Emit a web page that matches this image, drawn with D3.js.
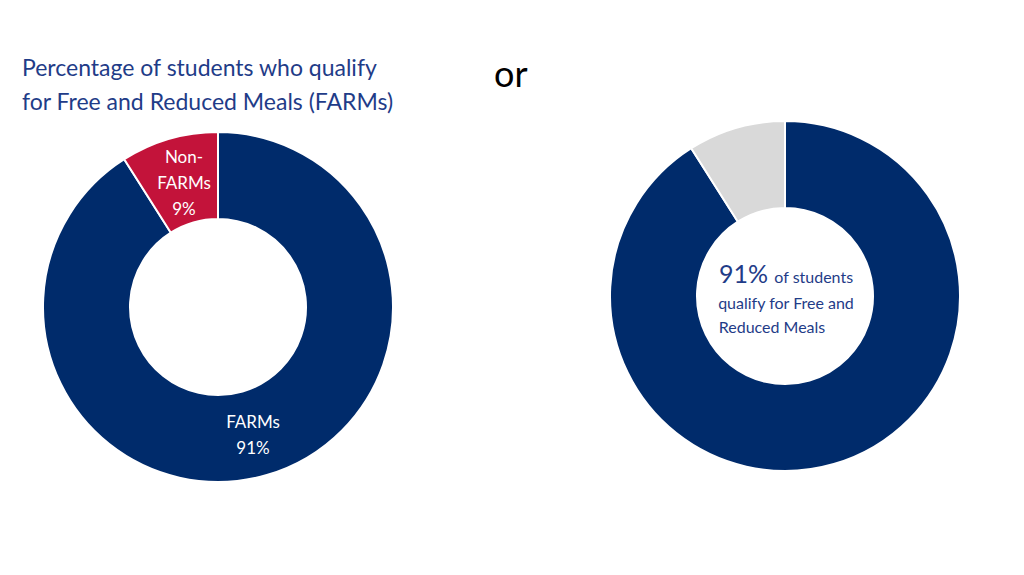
<!DOCTYPE html><html><head><meta charset="utf-8">
<script src="https://cdn.jsdelivr.net/npm/d3@7"></script>
<style>body{margin:0;background:#fff}text{font-family:Lato,"Open Sans",sans-serif}</style></head>
<body><svg id="c" width="1024" height="575"></svg>
<script>
const categories=["FARMs","Non-FARMs"];
const values=[91,9];
const leftColors=["#002B6B","#C3133A"];
const rightColors=["#002B6B","#D9D9D9"];
const svg=d3.select("#c");
const pie=d3.pie().sort(null).value(d=>d);
const arc=d3.arc().innerRadius(88).outerRadius(175);
function donut(cx,cy,cols){
  const g=svg.append("g").attr("transform",`translate(${cx},${cy})`);
  g.selectAll("path").data(pie(values)).join("path").attr("d",arc)
   .attr("fill",(d,i)=>cols[i]).attr("stroke","#fff").attr("stroke-width",2);
  return g;
}
const L=donut(218,307,leftColors);
donut(785,296,rightColors);
svg.append("text").attr("x",22).attr("y",76).attr("fill","#1F3C88").attr("font-size",23).text("Percentage of students who qualify");
svg.append("text").attr("x",22).attr("y",110).attr("fill","#1F3C88").attr("font-size",23).text("for Free and Reduced Meals (FARMs)");
svg.append("text").attr("x",494).attr("y",87).attr("fill","#000").attr("font-size",36).text("or");
const lab=(x,y,t)=>svg.append("text").attr("x",x).attr("y",y).attr("fill","#fff").attr("font-size",17).attr("text-anchor","middle").text(t);
lab(184,163,"Non-");lab(184,189,"FARMs");lab(184,215,"9%");
lab(253,428,categories[0]);lab(253,454,values[0]+"%");
const c=svg.append("text").attr("fill","#1F3C88").attr("text-anchor","middle");
const t1=svg.append("text").attr("x",786).attr("y",283).attr("text-anchor","middle").attr("fill","#1F3C88");
t1.append("tspan").attr("font-size",25).text(values[0]+"% ");
t1.append("tspan").attr("font-size",16).text("of students");
svg.append("text").attr("x",786).attr("y",309).attr("text-anchor","middle").attr("fill","#1F3C88").attr("font-size",16).text("qualify for Free and");
svg.append("text").attr("x",772).attr("y",333).attr("text-anchor","middle").attr("fill","#1F3C88").attr("font-size",16).text("Reduced Meals");
</script></body></html>
